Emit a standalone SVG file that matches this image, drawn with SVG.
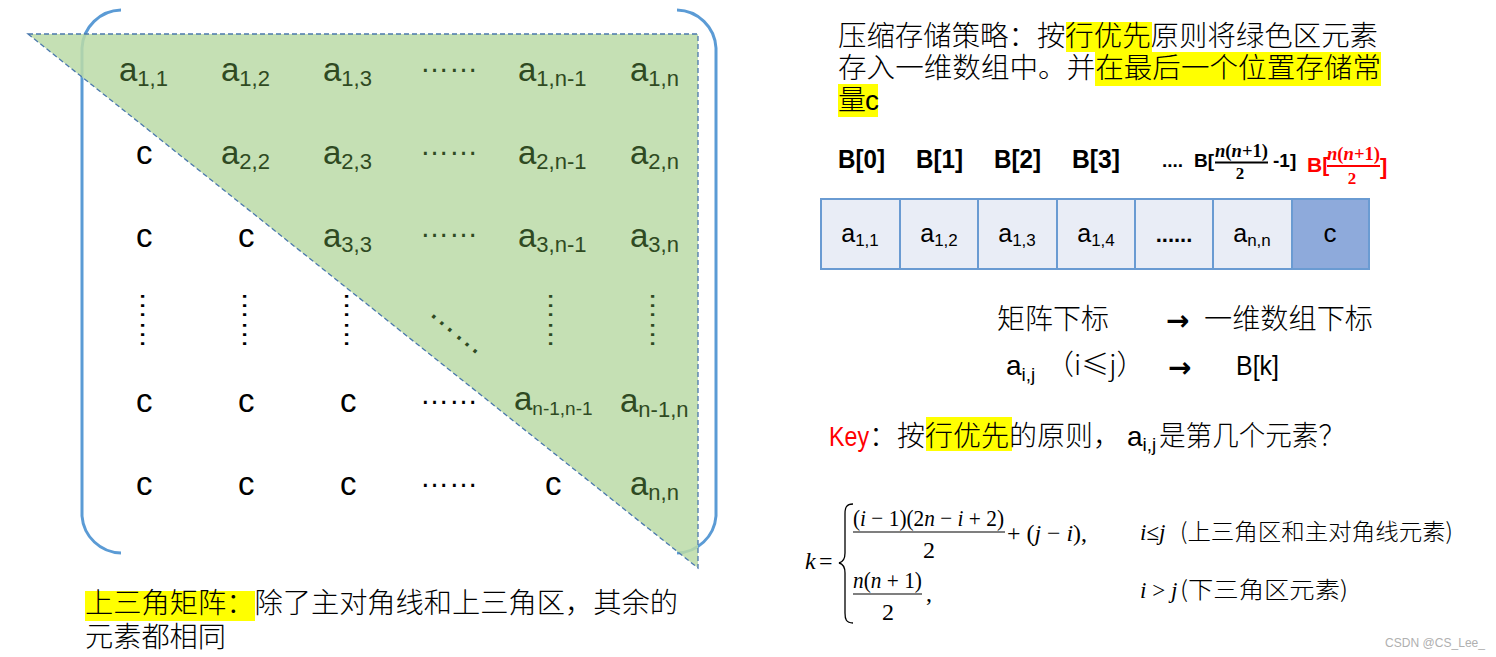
<svg xmlns="http://www.w3.org/2000/svg" width="1496" height="657" viewBox="0 0 1496 657">
<style>
.lat{font-family:"Liberation Sans","Noto Sans CJK SC",sans-serif}
.cjk{font-family:"Noto Sans CJK SC","Liberation Sans",sans-serif;font-weight:300}
.ser{font-family:"Liberation Serif","Noto Sans CJK SC",serif}
.ma{font-size:33px;fill:#2f4a22}
.mc{font-size:33px;fill:#000}
.dk{fill:#000}
.gr{fill:#2f4a22}
.hl{fill:#ffff00}
.brk{fill:none;stroke:#5b9bd5;stroke-width:3}
.cell{fill:#e9edf6;stroke:#6a9bd2;stroke-width:2}
.bl{font-weight:bold}
.arr{font-family:"DejaVu Sans",sans-serif;font-weight:bold;font-size:28px}
</style>
<rect width="1496" height="657" fill="#fff"/>

<g id="brackets">
<path class="brk" d="M121,10 A40,40 0 0 0 82,48 V516 A40,40 0 0 0 121,553"/>
<path class="brk" d="M677,10 A40,40 0 0 1 716,48 V516 A40,40 0 0 1 677,553"/>
</g>

<g id="upper-triangle">
<polygon points="28,34 698,34 698,568" fill="#bbdaa7" fill-opacity="0.85" stroke="#4a78ad" stroke-width="1.3" stroke-dasharray="5,3"/>
</g>

<g id="matrix" class="lat">
<text class="ma" x="119" y="81">a<tspan font-size="22" dy="5">1,1</tspan></text>
<text class="ma" x="221" y="81">a<tspan font-size="22" dy="5">1,2</tspan></text>
<text class="ma" x="323" y="81">a<tspan font-size="22" dy="5">1,3</tspan></text>
<text class="gr" x="420" y="72" font-size="29">……</text>
<text class="ma" x="518" y="81">a<tspan font-size="22" dy="5">1,n-1</tspan></text>
<text class="ma" x="630" y="81">a<tspan font-size="22" dy="5">1,n</tspan></text>

<text class="mc" x="136" y="164">c</text>
<text class="ma" x="221" y="164">a<tspan font-size="22" dy="5">2,2</tspan></text>
<text class="ma" x="323" y="164">a<tspan font-size="22" dy="5">2,3</tspan></text>
<text class="gr" x="420" y="155" font-size="29">……</text>
<text class="ma" x="518" y="164">a<tspan font-size="22" dy="5">2,n-1</tspan></text>
<text class="ma" x="630" y="164">a<tspan font-size="22" dy="5">2,n</tspan></text>

<text class="mc" x="136" y="247">c</text>
<text class="mc" x="238" y="247">c</text>
<text class="ma" x="323" y="247">a<tspan font-size="22" dy="5">3,3</tspan></text>
<text class="gr" x="420" y="237" font-size="29">……</text>
<text class="ma" x="518" y="247">a<tspan font-size="22" dy="5">3,n-1</tspan></text>
<text class="ma" x="630" y="247">a<tspan font-size="22" dy="5">3,n</tspan></text>

<text class="dk" font-size="29" transform="translate(140.5,291) rotate(90)">……</text>
<text class="dk" font-size="29" transform="translate(242.5,291) rotate(90)">……</text>
<text class="dk" font-size="29" transform="translate(344.5,291) rotate(90)">……</text>
<text class="gr" font-size="33" transform="translate(428,314) rotate(40)">……</text>
<text class="gr" font-size="29" transform="translate(548.5,291) rotate(90)">……</text>
<text class="gr" font-size="29" transform="translate(650.5,291) rotate(90)">……</text>

<text class="mc" x="136" y="412">c</text>
<text class="mc" x="238" y="412">c</text>
<text class="mc" x="340" y="412">c</text>
<text class="dk" x="420" y="404" font-size="29">……</text>
<text class="ma" x="514" y="410" font-size="26">a<tspan font-size="19" dy="5">n-1,n-1</tspan></text>
<text class="ma" x="620" y="412">a<tspan font-size="22" dy="5">n-1,n</tspan></text>

<text class="mc" x="136" y="495">c</text>
<text class="mc" x="238" y="495">c</text>
<text class="mc" x="340" y="495">c</text>
<text class="dk" x="420" y="487" font-size="29">……</text>
<text class="mc" x="545" y="495">c</text>
<text class="ma" x="630" y="495">a<tspan font-size="22" dy="5">n,n</tspan></text>
</g>

<g id="caption">
<rect class="hl" x="85" y="591" width="170" height="30"/>
<text class="cjk" x="85" y="613" font-size="28" textLength="593" lengthAdjust="spacingAndGlyphs">上三角矩阵：除了主对角线和上三角区，其余的</text>
<text class="cjk" x="85" y="647" font-size="28" textLength="141" lengthAdjust="spacingAndGlyphs">元素都相同</text>
</g>

<g id="strategy-text">
<rect class="hl" x="1066" y="22" width="86" height="30"/>
<rect class="hl" x="1095" y="52" width="286" height="34"/>
<rect class="hl" x="838" y="84" width="40" height="33"/>
<text class="cjk" x="838" y="46" font-size="28" textLength="540" lengthAdjust="spacingAndGlyphs">压缩存储策略：按行优先原则将绿色区元素</text>
<text class="cjk" x="838" y="78" font-size="28" textLength="543" lengthAdjust="spacingAndGlyphs">存入一维数组中。并在最后一个位置存储常</text>
<text class="cjk" x="838" y="110" font-size="28">量<tspan class="lat" x="865" font-weight="normal">c</tspan></text>
</g>

<g id="index-labels" class="lat bl">
<text x="838" y="168" font-size="25" textLength="47" lengthAdjust="spacingAndGlyphs">B[0]</text>
<text x="916" y="168" font-size="25" textLength="47" lengthAdjust="spacingAndGlyphs">B[1]</text>
<text x="994" y="168" font-size="25" textLength="47" lengthAdjust="spacingAndGlyphs">B[2]</text>
<text x="1072" y="168" font-size="25" textLength="48" lengthAdjust="spacingAndGlyphs">B[3]</text>
<text x="1162" y="167" font-size="19">....<tspan x="1194">B[</tspan></text>
<text class="ser" x="1215" y="157" font-size="18" textLength="53" lengthAdjust="spacingAndGlyphs"><tspan font-style="italic">n</tspan>(<tspan font-style="italic">n</tspan>+1)</text>
<line x1="1215" y1="162.5" x2="1268" y2="162.5" stroke="#000" stroke-width="1.8"/>
<text class="ser" x="1240" y="179" font-size="17" text-anchor="middle">2</text>
<text x="1273" y="167" font-size="19">-1]</text>
<g fill="#ff0000">
<text x="1307" y="172" font-size="21">B[</text>
<text class="ser" x="1327" y="160" font-size="18" textLength="53" lengthAdjust="spacingAndGlyphs"><tspan font-style="italic">n</tspan>(<tspan font-style="italic">n</tspan>+1)</text>
<line x1="1327" y1="166" x2="1380" y2="166" stroke="#ff0000" stroke-width="2.2"/>
<text class="ser" x="1352" y="184" font-size="17" text-anchor="middle">2</text>
<text x="1380" y="174" font-size="22">]</text>
</g>
</g>

<g id="array" class="lat">
<rect class="cell" x="821" y="199" width="79" height="70"/>
<rect class="cell" x="900" y="199" width="78" height="70"/>
<rect class="cell" x="978" y="199" width="79" height="70"/>
<rect class="cell" x="1057" y="199" width="78" height="70"/>
<rect class="cell" x="1135" y="199" width="78" height="70"/>
<rect class="cell" x="1213" y="199" width="79" height="70"/>
<rect x="1292" y="199" width="77" height="70" fill="#8eaadb" stroke="#6a9bd2" stroke-width="2"/>
<g font-size="25" text-anchor="middle">
<text x="860" y="242">a<tspan font-size="17" dy="4">1,1</tspan></text>
<text x="939" y="242">a<tspan font-size="17" dy="4">1,2</tspan></text>
<text x="1017" y="242">a<tspan font-size="17" dy="4">1,3</tspan></text>
<text x="1096" y="242">a<tspan font-size="17" dy="4">1,4</tspan></text>
<text x="1174" y="242" font-size="22" font-weight="bold">......</text>
<text x="1252" y="242">a<tspan font-size="17" dy="4">n,n</tspan></text>
<text x="1330" y="242" font-size="26">c</text>
</g>
</g>

<g id="mapping">
<text class="cjk" x="997" y="329" font-size="28" textLength="112" lengthAdjust="spacingAndGlyphs">矩阵下标</text>
<text class="arr" x="1166" y="330">→</text>
<text class="cjk" x="1204" y="329" font-size="28" textLength="169" lengthAdjust="spacingAndGlyphs">一维数组下标</text>
<text class="lat" x="1006" y="375" font-size="28">a<tspan font-size="19" dy="6">i,j</tspan></text>
<text class="cjk" x="1046" y="375" font-size="28">（i≤j）</text>
<text class="arr" x="1168" y="377">→</text>
<text class="lat" x="1236" y="375" font-size="27" textLength="43" lengthAdjust="spacingAndGlyphs">B[k]</text>
</g>

<g id="key-question">
<rect class="hl" x="926" y="417" width="86" height="34"/>
<text class="cjk" y="446" font-size="28"><tspan class="lat" x="829" fill="#ff0000" font-size="27" font-weight="normal" textLength="40" lengthAdjust="spacingAndGlyphs">Key</tspan><tspan x="869">：按行优先的原则，</tspan><tspan class="lat" x="1127" font-weight="normal">a</tspan><tspan class="lat" font-size="19" font-weight="normal" dy="5">i,j</tspan><tspan x="1159" dy="-5" textLength="186" lengthAdjust="spacingAndGlyphs">是第几个元素？</tspan></text>
</g>

<g id="formula" class="ser" font-size="24">
<text x="805" y="569" font-style="italic">k</text>
<text x="819" y="569">=</text>
<path d="M853,504 C846,504 845,508 845,514 L845,553 C845,559 843,562 839,563 C843,564 845,567 845,573 L845,613 C845,619 846,623 853,623" fill="none" stroke="#000" stroke-width="1.3"/>
<text x="853" y="526" textLength="151" lengthAdjust="spacingAndGlyphs">(<tspan font-style="italic">i</tspan> − 1)(2<tspan font-style="italic">n</tspan> − <tspan font-style="italic">i</tspan> + 2)</text>
<line x1="853" y1="532" x2="1005" y2="532" stroke="#000" stroke-width="1.2"/>
<text x="929" y="558" text-anchor="middle">2</text>
<text x="1007" y="541" textLength="80" lengthAdjust="spacingAndGlyphs">+ (<tspan font-style="italic">j</tspan> − <tspan font-style="italic">i</tspan>),</text>
<text x="853" y="588" textLength="69" lengthAdjust="spacingAndGlyphs"><tspan font-style="italic">n</tspan>(<tspan font-style="italic">n</tspan> + 1)</text>
<line x1="853" y1="594" x2="922" y2="594" stroke="#000" stroke-width="1.2"/>
<text x="888" y="620" text-anchor="middle">2</text>
<text x="926" y="601">,</text>
<text x="1140" y="540" font-size="23"><tspan font-style="italic">i</tspan>≤<tspan font-style="italic">j</tspan></text>
<text class="cjk" x="1180" y="540" font-size="23" textLength="273" lengthAdjust="spacingAndGlyphs">(上三角区和主对角线元素)</text>
<text x="1140" y="598" font-size="23"><tspan font-style="italic">i</tspan> &gt; <tspan font-style="italic">j</tspan></text>
<text class="cjk" x="1180" y="598" font-size="23" textLength="168" lengthAdjust="spacingAndGlyphs">(下三角区元素)</text>
</g>

<g id="watermark">
<text class="lat" x="1385" y="647" font-size="13" fill="#b0b0b0" textLength="100" lengthAdjust="spacingAndGlyphs">CSDN @CS_Lee_</text>
</g>
</svg>
